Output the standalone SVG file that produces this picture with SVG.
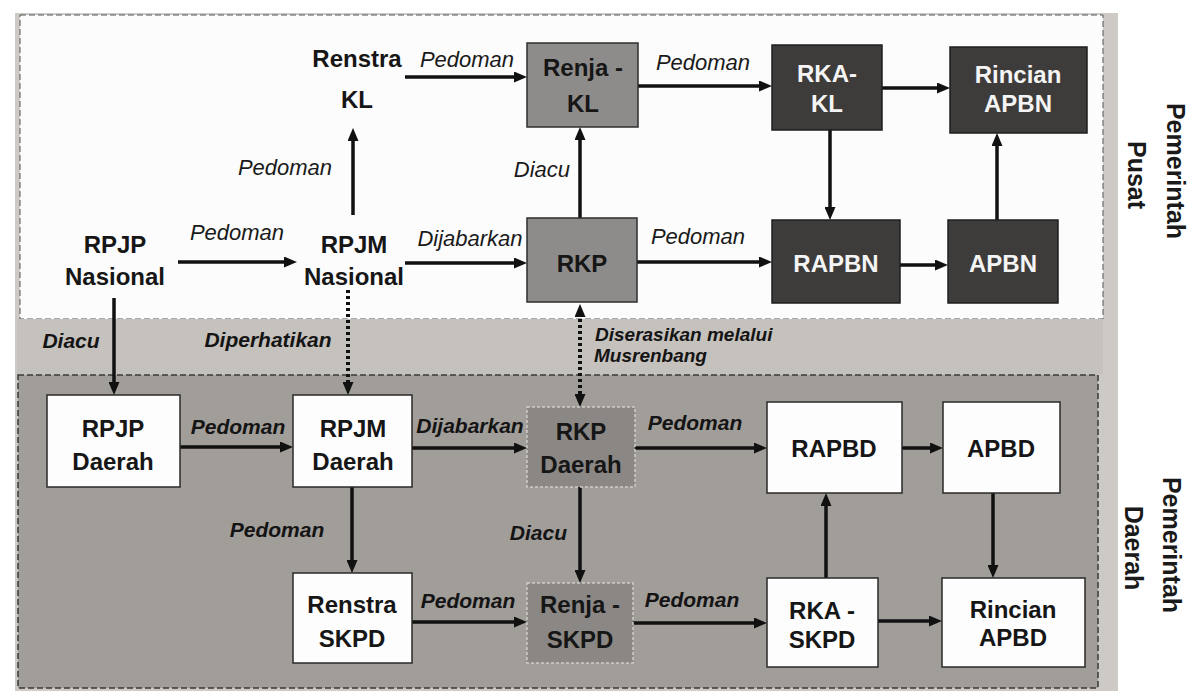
<svg xmlns="http://www.w3.org/2000/svg" width="1195" height="693" viewBox="0 0 1195 693">
<style>
.nt{font-family:"Liberation Sans",Arial,sans-serif;font-weight:bold;font-size:24px;text-anchor:middle;fill:#161616}
.wt{fill:#f4f4f4}
.lb{font-family:"Liberation Sans",Arial,sans-serif;font-style:italic;font-size:22px;text-anchor:middle;fill:#1a1a1a}
.lbb{font-family:"Liberation Sans",Arial,sans-serif;font-style:italic;font-weight:bold;font-size:21px;text-anchor:middle;fill:#141414}
.side{font-family:"Liberation Sans",Arial,sans-serif;font-weight:bold;font-size:25px;text-anchor:middle;fill:#1a1a1a}
.gbox{fill:#8e8c8a;stroke:#2e2e2e;stroke-width:1.5}
.dbox{fill:#3e3c3b;stroke:#1e1e1e;stroke-width:1.5}
.wbox{fill:#fdfdfd;stroke:#2a2a2a;stroke-width:1.5}
.gbox2{fill:#8a8784;stroke:#d0ccc8;stroke-width:1.5;stroke-dasharray:3 2}
.e{fill:none;stroke:#111;stroke-width:3.5}
.dot{fill:none;stroke:#111;stroke-width:4;stroke-dasharray:3 3}
</style>
<defs>
<marker id="ah" markerUnits="userSpaceOnUse" markerWidth="13" markerHeight="11" viewBox="0 0 13 11" refX="4" refY="5.5" orient="auto-start-reverse">
<path d="M0,0 L13,5.5 L0,11 z" fill="#111"/>
</marker>
</defs>
<rect x="0" y="0" width="1195" height="693" fill="#ffffff"/>
<rect x="15" y="13" width="1103" height="678" fill="#cdc9c5"/>
<rect x="20" y="15" width="1083" height="304" fill="#fcfcfc" stroke="#555" stroke-width="1" stroke-dasharray="6 3"/>
<rect x="17" y="319" width="1086" height="56" fill="#c5c1bd"/>
<rect x="18" y="375" width="1080" height="313" fill="#a19d99" stroke="#3a3a3a" stroke-width="1.5" stroke-dasharray="6 3"/>

<g id="side-labels">
<text class="side" transform="translate(1167,171) rotate(90)">Pemerintah</text>
<text class="side" transform="translate(1128,175) rotate(90)">Pusat</text>
<text class="side" transform="translate(1163,545) rotate(90)">Pemerintah</text>
<text class="side" transform="translate(1125,548) rotate(90)">Daerah</text>
</g>

<g id="connectors">
<path class="e" d="M178,262 H288" marker-end="url(#ah)"/>
<path class="e" d="M353,215 V137" marker-end="url(#ah)"/>
<path class="e" d="M405,77 H518" marker-end="url(#ah)"/>
<path class="e" d="M405,263 H518" marker-end="url(#ah)"/>
<path class="e" d="M580,218 V136" marker-end="url(#ah)"/>
<path class="e" d="M638,86 H763" marker-end="url(#ah)"/>
<path class="e" d="M637,262 H763" marker-end="url(#ah)"/>
<path class="e" d="M830,130 V211" marker-end="url(#ah)"/>
<path class="e" d="M882,88 H941" marker-end="url(#ah)"/>
<path class="e" d="M900,265 H939" marker-end="url(#ah)"/>
<path class="e" d="M997,220 V142" marker-end="url(#ah)"/>
<path class="e" d="M114,298 V386" marker-end="url(#ah)"/>
<path class="dot" d="M348,290 V386" marker-end="url(#ah)"/>
<path class="dot" d="M580,313 V398" marker-start="url(#ah)" marker-end="url(#ah)"/>
<path class="e" d="M180,447 H284" marker-end="url(#ah)"/>
<path class="e" d="M352,487 V564" marker-end="url(#ah)"/>
<path class="e" d="M412,448 H518" marker-end="url(#ah)"/>
<path class="e" d="M412,622 H518" marker-end="url(#ah)"/>
<path class="e" d="M580,487 V574" marker-end="url(#ah)"/>
<path class="e" d="M635,448 H758" marker-end="url(#ah)"/>
<path class="e" d="M633,623 H758" marker-end="url(#ah)"/>
<path class="e" d="M902,448 H934" marker-end="url(#ah)"/>
<path class="e" d="M993,493 V569" marker-end="url(#ah)"/>
<path class="e" d="M826,578 V502" marker-end="url(#ah)"/>
<path class="e" d="M878,621 H933" marker-end="url(#ah)"/>

<text class="lb" x="237" y="240">Pedoman</text>
<text class="lb" x="285" y="175">Pedoman</text>
<text class="lb" x="467" y="67">Pedoman</text>
<text class="lb" x="470" y="246">Dijabarkan</text>
<text class="lb" x="570" y="177" style="text-anchor:end">Diacu</text>
<text class="lb" x="703" y="70">Pedoman</text>
<text class="lb" x="698" y="244">Pedoman</text>
<text class="lbb" x="71" y="348">Diacu</text>
<text class="lbb" x="268" y="347">Diperhatikan</text>
<text class="lbb" x="595" y="341" style="text-anchor:start;font-size:19px">Diserasikan melalui</text>
<text class="lbb" x="594" y="362" style="text-anchor:start;font-size:19px">Musrenbang</text>
<text class="lbb" x="238" y="434">Pedoman</text>
<text class="lbb" x="277" y="537">Pedoman</text>
<text class="lbb" x="470" y="433">Dijabarkan</text>
<text class="lbb" x="695" y="430">Pedoman</text>
<text class="lbb" x="567" y="540" style="text-anchor:end">Diacu</text>
<text class="lbb" x="468" y="608">Pedoman</text>
<text class="lbb" x="692" y="607">Pedoman</text>
</g>

<g id="renstra-kl"><text class="nt" x="357" y="67">Renstra</text><text class="nt" x="357" y="108">KL</text></g>
<g id="rpjp-nasional"><text class="nt" x="115" y="253">RPJP</text><text class="nt" x="115" y="285">Nasional</text></g>
<g id="rpjm-nasional"><text class="nt" x="354" y="253">RPJM</text><text class="nt" x="354" y="285">Nasional</text></g>
<g id="renja-kl"><rect class="gbox" x="527" y="43" width="111" height="84"/><text class="nt" x="583" y="76">Renja -</text><text class="nt" x="583" y="112">KL</text></g>
<g id="rkp"><rect class="gbox" x="527" y="218" width="110" height="84"/><text class="nt" x="582" y="272">RKP</text></g>
<g id="rka-kl"><rect class="dbox" x="772" y="45" width="110" height="85"/><text class="nt wt" x="827" y="82">RKA-</text><text class="nt wt" x="827" y="112">KL</text></g>
<g id="rincian-apbn"><rect class="dbox" x="950" y="47" width="137" height="86"/><text class="nt wt" x="1018" y="83">Rincian</text><text class="nt wt" x="1018" y="112">APBN</text></g>
<g id="rapbn"><rect class="dbox" x="772" y="220" width="128" height="83"/><text class="nt wt" x="836" y="272">RAPBN</text></g>
<g id="apbn"><rect class="dbox" x="948" y="220" width="110" height="83"/><text class="nt wt" x="1003" y="272">APBN</text></g>

<g id="rpjp-daerah"><rect class="wbox" x="47" y="395" width="133" height="92"/><text class="nt" x="113" y="437">RPJP</text><text class="nt" x="113" y="470">Daerah</text></g>
<g id="rpjm-daerah"><rect class="wbox" x="293" y="395" width="119" height="92"/><text class="nt" x="353" y="437">RPJM</text><text class="nt" x="353" y="470">Daerah</text></g>
<g id="renstra-skpd"><rect class="wbox" x="293" y="573" width="119" height="90"/><text class="nt" x="352" y="613">Renstra</text><text class="nt" x="352" y="647">SKPD</text></g>
<g id="rkp-daerah"><rect class="gbox2" x="527" y="407" width="108" height="80"/><text class="nt" x="581" y="440">RKP</text><text class="nt" x="581" y="473">Daerah</text></g>
<g id="renja-skpd"><rect class="gbox2" x="527" y="583" width="106" height="80"/><text class="nt" x="580" y="613">Renja -</text><text class="nt" x="580" y="648">SKPD</text></g>
<g id="rapbd"><rect class="wbox" x="767" y="402" width="135" height="91"/><text class="nt" x="834" y="457">RAPBD</text></g>
<g id="apbd"><rect class="wbox" x="943" y="402" width="117" height="91"/><text class="nt" x="1001" y="457">APBD</text></g>
<g id="rka-skpd"><rect class="wbox" x="767" y="578" width="111" height="89"/><text class="nt" x="822" y="619">RKA -</text><text class="nt" x="822" y="648">SKPD</text></g>
<g id="rincian-apbd"><rect class="wbox" x="942" y="578" width="143" height="89"/><text class="nt" x="1013" y="618">Rincian</text><text class="nt" x="1013" y="646">APBD</text></g>
</svg>
